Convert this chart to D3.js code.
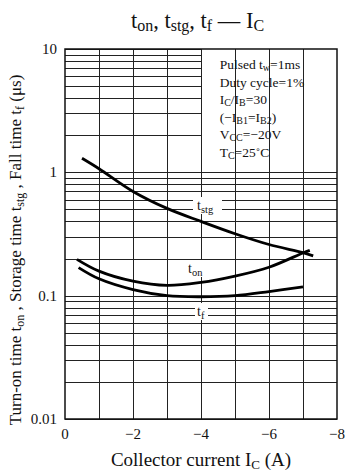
<!DOCTYPE html>
<html>
<head>
<meta charset="utf-8">
<script src="https://cdn.jsdelivr.net/npm/d3@7"></script>
<style>
  body { margin: 0; background: #fff; }
  text { font-family: "Liberation Serif", "DejaVu Serif", serif; fill: #111; }
</style>
</head>
<body>
<div id="chart"></div>
<script>
// datos
const xTicks = [0, -2, -4, -6, -8];
const yTicks = [0.01, 0.1, 1, 10];
const yTickLabels = ['0.01', '0.1', '1', '10'];

const tstgIc = [-0.5, -1, -2, -3, -4, -5, -6, -7, -7.3];
const tstgVal = [1.3, 1.07, 0.70, 0.51, 0.40, 0.318, 0.26, 0.223, 0.21];
const tonIc = [-0.35, -1, -2, -3, -4, -5, -6, -7, -7.2];
const tonVal = [0.197, 0.158, 0.131, 0.121, 0.128, 0.144, 0.17, 0.222, 0.233];
const tfIc = [-0.4, -1, -2, -3, -4, -5, -6, -7];
const tfVal = [0.169, 0.137, 0.112, 0.1, 0.098, 0.1, 0.108, 0.118];

const legendLines = ['Pulsed t<w>=1ms', 'Duty cycle=1%', 'I<C>/I<B>=30', '(\u2212I<B1>=I<B2>)', 'V<CC>=\u221220V', 'T<C>=25\u02daC'];

const W = 353, H = 473;
const margin = {top: 49, right: 16, bottom: 54, left: 65};
const width = W - margin.left - margin.right,
      height = H - margin.top - margin.bottom;

const svg = d3.select('#chart').append('svg')
    .attr('width', W).attr('height', H);
const g = svg.append('g').attr('transform', 'translate(' + margin.left + ',' + margin.top + ')');

const x = d3.scaleLinear().domain([0, -8]).range([0, width]);
const y = d3.scaleLog().domain([0.01, 10]).range([height, 0]);

// rejilla
let minor = [];
[0.01, 0.1, 1].forEach(function(d) {
    for (let k = 1; k < 10; k++) minor.push(d * k);
});
minor.push(10);

const grid = g.append('g').attr('stroke', '#222').attr('stroke-width', 1);
minor.forEach(function(v) {
    // la caja de leyenda tapa la parte derecha de la decada superior
    let x2 = (v > 1.001) ? x(-4) : width;
    grid.append('line')
        .attr('x1', 0).attr('x2', x2)
        .attr('y1', Math.round(y(v)) + 0.5).attr('y2', Math.round(y(v)) + 0.5);
});
d3.range(1, 8).forEach(function(v) {
    grid.append('line')
        .attr('x1', Math.round(x(-v)) + 0.5).attr('x2', Math.round(x(-v)) + 0.5)
        .attr('y1', 0).attr('y2', height);
});

g.append('rect')
    .attr('x', 0).attr('y', 0).attr('width', width).attr('height', height)
    .attr('fill', 'none').attr('stroke', '#111').attr('stroke-width', 1.5);

// texto con subindices: 'I<C>' -> I con C abajo
function richText(sel, s, big, small, shift) {
    let parts = s.split(/(<[^>]+>)/).filter(function(p) { return p.length; });
    let down = false;
    parts.forEach(function(p) {
        if (p[0] == '<') {
            sel.append('tspan').attr('dy', shift).style('font-size', small + 'px').text(p.slice(1, -1));
            down = true;
        } else {
            sel.append('tspan').attr('dy', down ? -shift : 0).style('font-size', big + 'px').text(p);
            down = false;
        }
    });
}

// etiquetas de curvas (fondo blanco que corta la rejilla)
const labels = g.append('g');
function curveLabel(px, py, s, bx, bw) {
    // px, py en coordenadas de pagina
    px -= margin.left; py -= margin.top;
    labels.append('rect').attr('x', bx - margin.left).attr('y', py - 13).attr('width', bw).attr('height', 17).attr('fill', '#fff');
    let t = labels.append('text').attr('x', px).attr('y', py);
    richText(t, s, 14, 10.5, 3);
}
curveLabel(197, 210, 't<stg>', 193, 29);
curveLabel(188, 273, 't<on>', 186, 16);
curveLabel(197, 316, 't<f>', 195, 13);

// curvas
const line = d3.line()
    .x(function(d) { return x(d[0]); })
    .y(function(d) { return y(d[1]); })
    .curve(d3.curveCatmullRom);

function drawSeries(ic, val) {
    let pts = ic.map(function(d, i) { return [d, val[i]]; });
    g.append('path').datum(pts)
        .attr('d', line)
        .attr('fill', 'none').attr('stroke', '#000').attr('stroke-width', 2.8);
}
drawSeries(tstgIc, tstgVal);
drawSeries(tonIc, tonVal);
drawSeries(tfIc, tfVal);

// leyenda
const legend = g.append('g');
legendLines.forEach(function(s, i) {
    let t = legend.append('text')
        .attr('x', x(-4.55)).attr('y', 20 + i * 17.6);
    richText(t, s, 13.5, 10, 2);
});

// ejes
xTicks.forEach(function(v) {
    g.append('text')
        .attr('x', x(v)).attr('y', height + 20)
        .attr('text-anchor', 'middle').style('font-size', '15px')
        .text(v == 0 ? '0' : '\u2212' + Math.abs(v));
});
yTicks.forEach(function(v, i) {
    g.append('text')
        .attr('x', -8).attr('y', y(v) + 5)
        .attr('text-anchor', 'end').style('font-size', '15px')
        .text(yTickLabels[i]);
});

// titulo
let title = svg.append('text').attr('x', 197.5).attr('y', 28)
    .attr('text-anchor', 'middle');
richText(title, 't<on>, t<stg>, t<f> \u2014 I<C>', 22.5, 16, 3);

// titulo eje x
let xl = svg.append('text').attr('x', 201).attr('y', 466)
    .attr('text-anchor', 'middle');
richText(xl, 'Collector current  I<C>  (A)', 19, 13, 3);

// titulo eje y
let yl = svg.append('text')
    .attr('transform', 'translate(21,' + 250 + ') rotate(-90)')
    .attr('text-anchor', 'middle');
richText(yl, 'Turn-on time t<on> , Storage time t<stg> , Fall time t<f>  (\u03bcs)', 17, 12, 3);
</script>
</body>
</html>
